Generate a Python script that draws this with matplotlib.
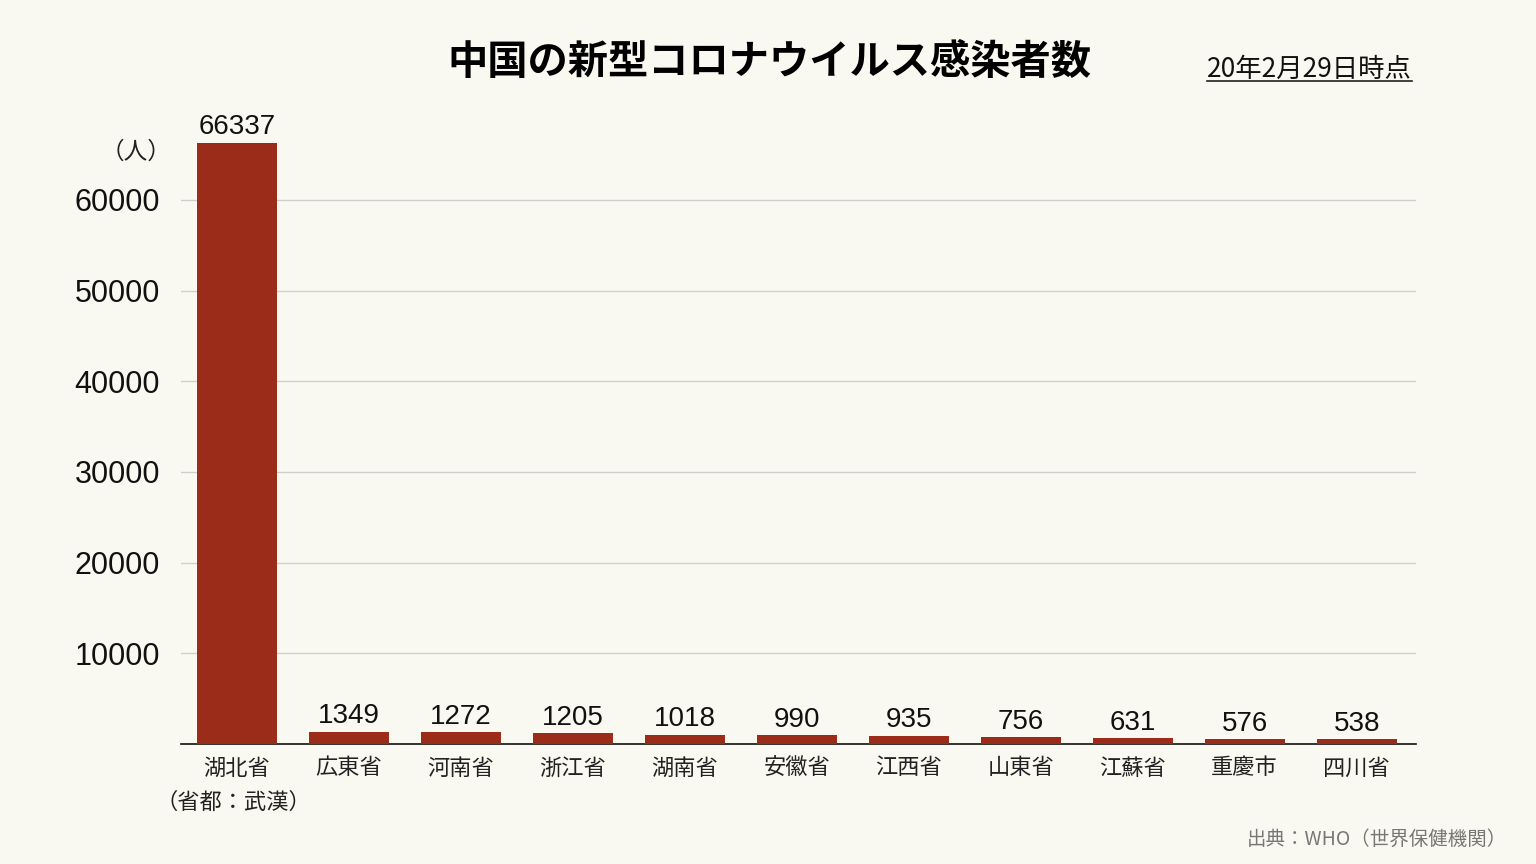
import matplotlib
matplotlib.use('Agg')
import matplotlib.pyplot as plt
from matplotlib.lines import Line2D

plt.rcParams['font.family'] = ['Liberation Sans', 'Noto Sans CJK JP', 'DejaVu Sans']

# data
provinces = ['湖北省', '広東省', '河南省', '浙江省', '湖南省', '安徽省',
             '江西省', '山東省', '江蘇省', '重慶市', '四川省']
cases = [66337, 1349, 1272, 1205, 1018, 990, 935, 756, 631, 576, 538]
yticks = [10000, 20000, 30000, 40000, 50000, 60000]

bg = '#faf9f1'
bar_color = '#9b2c1a'
cjk = ['Noto Sans CJK JP', 'DejaVu Sans']

fig = plt.figure(figsize=(15.36, 8.64), dpi=100, facecolor=bg)
ax = fig.add_axes([0.1178, 0.1389, 0.8041, 0.7346], facecolor=bg)

x = list(range(len(provinces)))
ax.bar(x, cases, width=0.714, color=bar_color, zorder=3)

# value labels
for xi, v in zip(x, cases):
    ax.text(xi, v + 250, str(v), ha='center', va='bottom', fontsize=20, color='#111111')

ax.set_xlim(-0.5, 10.53)
ax.set_ylim(0, 70000)
ax.set_yticks(yticks)
ax.set_yticklabels([str(t) for t in yticks], fontsize=22, color='#111111')
ax.set_xticks(x)
ax.set_xticklabels(provinces, fontsize=16, color='#222222', family=cjk)
ax.tick_params(axis='both', length=0)
ax.tick_params(axis='x', pad=9)
ax.tick_params(axis='y', pad=15)

ax.grid(axis='y', color='#cfcfcb', linewidth=1, zorder=0)
for s in ['top', 'left', 'right']:
    ax.spines[s].set_visible(False)
ax.spines['bottom'].set_color('#111111')
ax.spines['bottom'].set_linewidth(1.2)

# texts
fig.text(0.5007, 0.928, '中国の新型コロナウイルス感染者数', ha='center', va='center',
         fontsize=29, fontweight='bold', family=cjk)
date_txt = fig.text(0.9193, 0.920, '20年2月29日時点', ha='right', va='center',
                    fontsize=19, color='#111111', family=cjk)
fig.text(0.1115, 0.824, '（人）', ha='right', va='center', fontsize=17, color='#222222',
         family=cjk)
fig.text(0.1517, 0.071, '（省都：武漢）', ha='center', va='center', fontsize=16, color='#222222',
         family=cjk)
fig.text(0.981, 0.029, '出典：WHO（世界保健機関）', ha='right', va='center', fontsize=14,
         color='#777777', family=cjk)

# underline for the date
fig.canvas.draw()
bb = date_txt.get_window_extent().transformed(fig.transFigure.inverted())
fig.add_artist(Line2D([bb.x0, bb.x1], [bb.y0 + 0.002, bb.y0 + 0.002],
                      transform=fig.transFigure, color='#222222', linewidth=1.2))

fig.savefig('out.png', dpi=100, facecolor=bg)
